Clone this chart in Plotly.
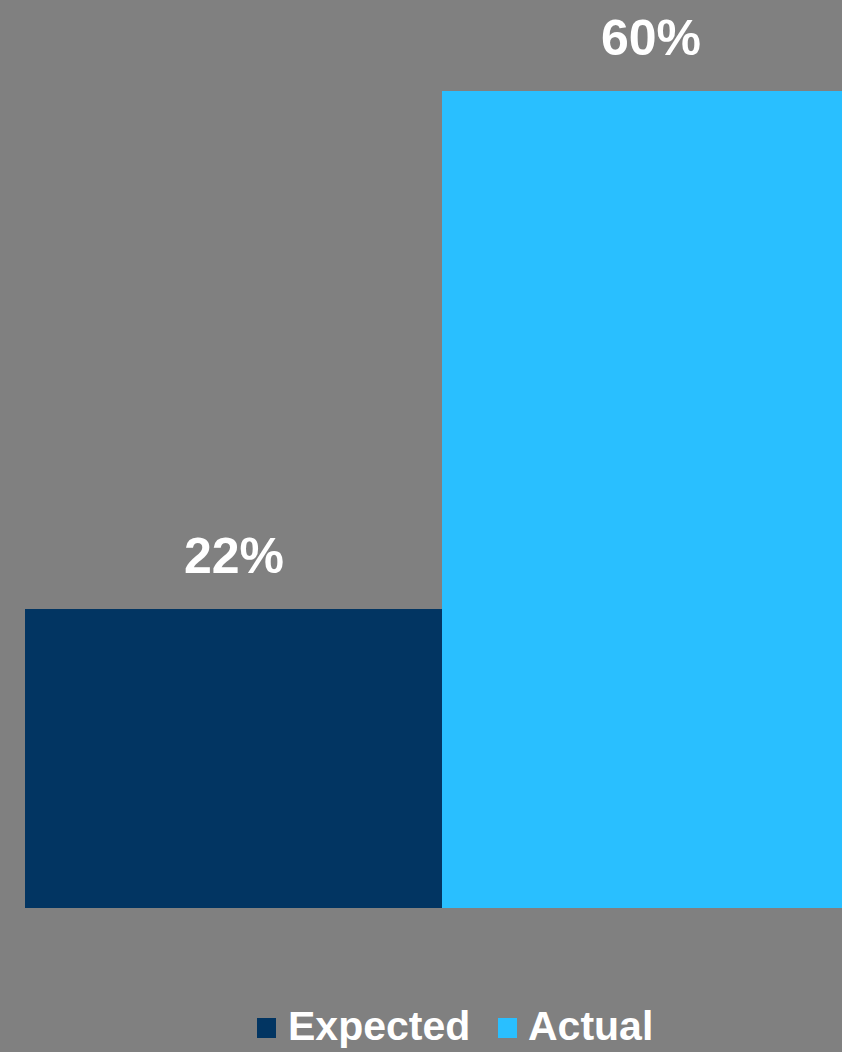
import plotly.graph_objects as go

# Data
categories = ["Expected", "Actual"]
values = [22, 60]
labels = ["22%", "60%"]
colors = ["#023562", "#29BFFF"]

BG = "#808080"
FONT = "Liberation Sans, Arial, sans-serif"

W, H = 842, 1052
ML, MR, MT, MB = 25, 0, 0, 144
PW, PH = W - ML - MR, H - MT - MB


def px_to_paper(px, py):
    return (px - ML) / PW, (H - MB - py) / PH


fig = go.Figure()
for cat, val, col in zip(categories, values, colors):
    fig.add_trace(go.Bar(
        x=[cat], y=[val], name=cat, width=1,
        marker=dict(color=col, line=dict(width=0)),
        hoverinfo="skip", showlegend=False,
    ))

# value labels above the bars
for cat, val, lab in zip(categories, values, labels):
    fig.add_annotation(
        x=cat, y=val, text=lab, showarrow=False,
        yanchor="middle", yshift=53,
        font=dict(family=FONT, size=50, color="white", weight="bold"),
    )

# legend: colour swatch + bold label per series
legend_items = [(257, 288), (498, 528)]  # swatch left, text left (px)
sw = 19
for (sx, tx), cat, col in zip(legend_items, categories, colors):
    x0, y0 = px_to_paper(sx, 1038)
    x1, y1 = px_to_paper(sx + sw, 1018)
    fig.add_shape(type="rect", xref="paper", yref="paper",
                  x0=x0, y0=y0, x1=x1, y1=y1,
                  fillcolor=col, line=dict(width=0))
    ax, ay = px_to_paper(tx - 2, 1026)
    fig.add_annotation(
        xref="paper", yref="paper", x=ax, y=ay, text=cat,
        showarrow=False, xanchor="left", yanchor="middle",
        font=dict(family=FONT, size=41, color="white", weight="bold"),
    )

fig.update_layout(
    width=W, height=H,
    paper_bgcolor=BG, plot_bgcolor=BG,
    margin=dict(l=ML, r=MR, t=MT, b=MB),
    barmode="overlay", bargap=0,
    showlegend=False,
    xaxis=dict(range=[-0.5, 1.459], showticklabels=False, showgrid=False,
               zeroline=False, showline=False, fixedrange=True),
    yaxis=dict(range=[0, 66.7], showticklabels=False, showgrid=False,
               zeroline=False, showline=False, fixedrange=True),
)

fig.write_html("out.html")
